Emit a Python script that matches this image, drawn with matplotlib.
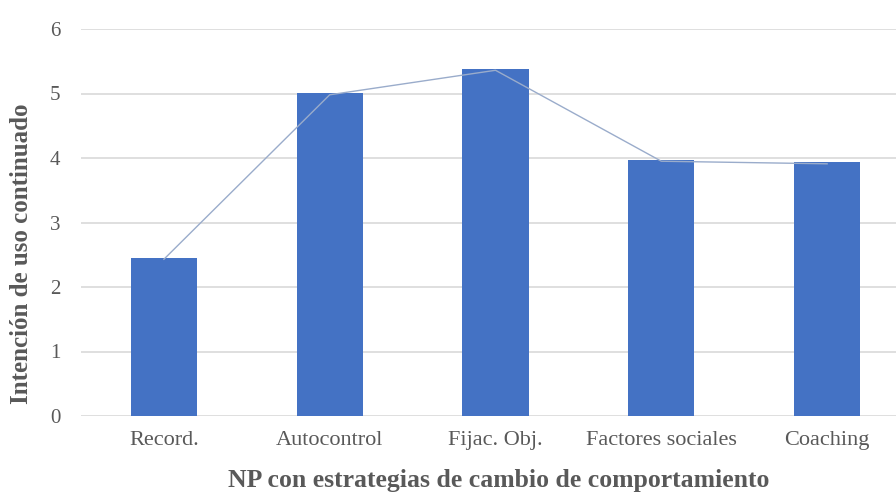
import matplotlib
matplotlib.use("Agg")
import matplotlib.pyplot as plt

# Intención de uso continuado por estrategia de cambio de comportamiento
categorias = ["Record.", "Autocontrol", "Fijac. Obj.", "Factores sociales", "Coaching"]
barras = [2.45, 5.01, 5.38, 3.97, 3.94]
linea = [2.43, 4.98, 5.36, 3.95, 3.91]

plt.rcParams['font.family'] = ['Liberation Serif', 'DejaVu Serif']

fig = plt.figure(figsize=(8.96, 4.93), dpi=100)
ax = fig.add_axes([81/896, 1 - 416/493, (910 - 81)/896, (416 - 29)/493])

x = range(len(categorias))
ax.bar(x, barras, width=0.4, color='#4472C4', zorder=2)
ax.plot(x, linea, color='#9AACCB', linewidth=1.0, zorder=3)

ax.set_xlim(-0.5, len(categorias) - 0.5)
ax.set_ylim(0, 6)
ax.set_yticks(range(0, 7))
ax.set_xticks(list(x))
ax.set_xticklabels(categorias, fontsize=16)
ax.grid(axis='y', color='#D9D9D9', linewidth=1.2, zorder=0)
ax.set_axisbelow(True)
for s in ax.spines.values():
    s.set_visible(False)
ax.tick_params(axis='both', length=0, labelsize=15, labelcolor='#595959')
ax.tick_params(axis='x', pad=11, labelsize=16)
ax.tick_params(axis='y', pad=15)

fig.text(499/896, 1 - 481/493, 'NP con estrategias de cambio de comportamiento',
         ha='center', va='center', fontsize=18.5, fontweight='bold', color='#595959')
fig.text(22/896, 1 - 254/493, 'Intención de uso continuado', rotation=90,
         ha='center', va='center', fontsize=18, fontweight='bold', color='#595959')

fig.savefig('out.png', dpi=100)
